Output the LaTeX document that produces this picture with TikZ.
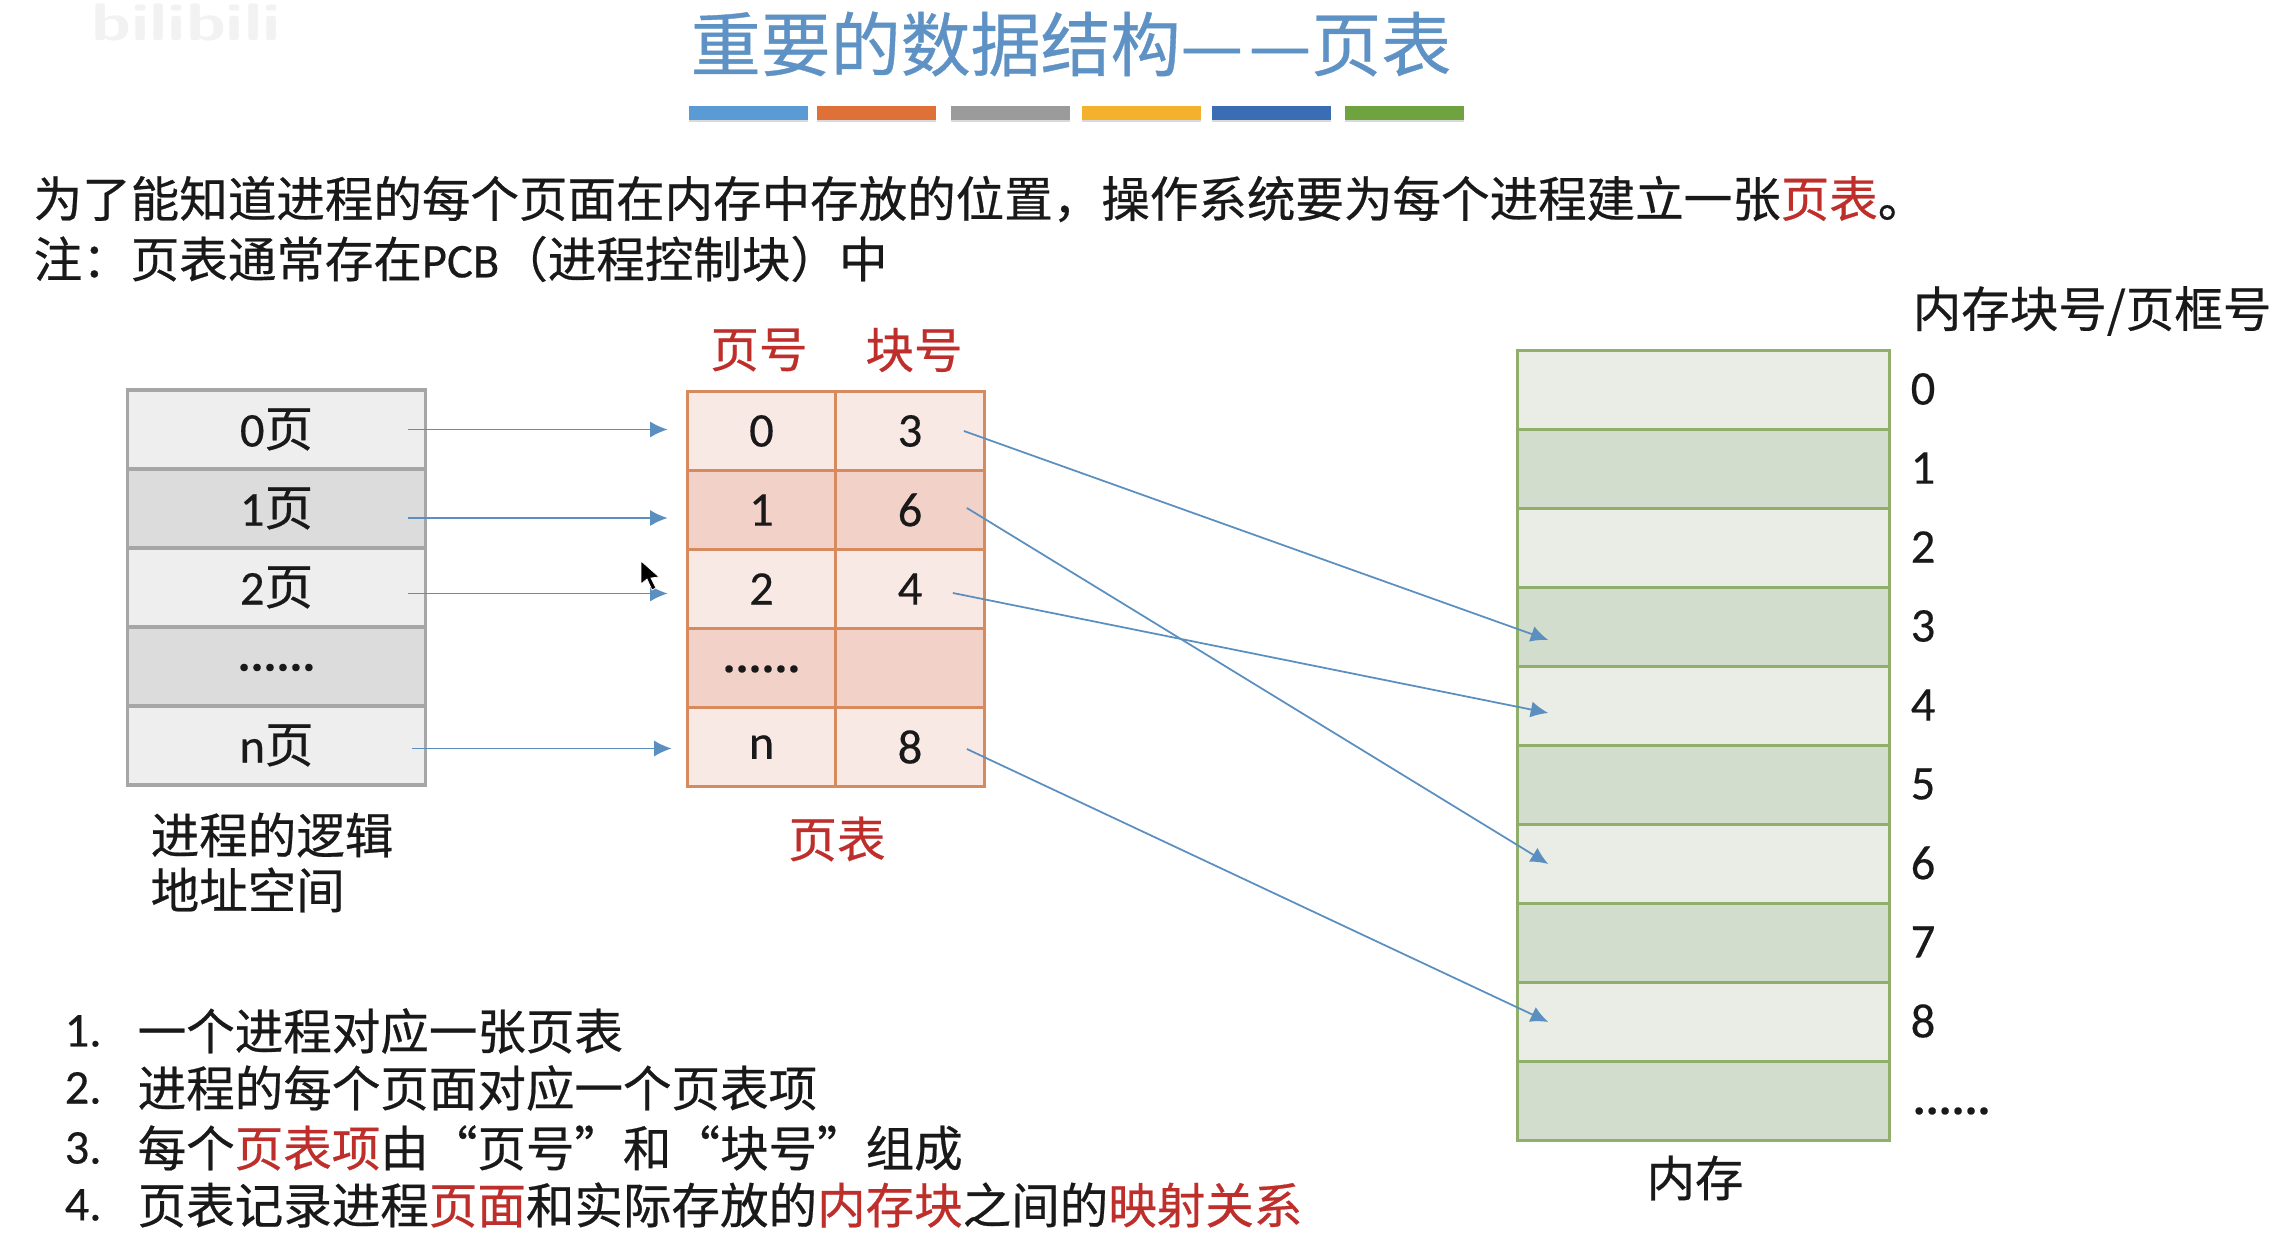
\documentclass[tikz,border=0pt]{standalone}
\usepackage{fontspec}
\setmainfont[FakeBold=.3]{Carlito}
\newfontfamily\cjk[FakeBold=.5]{Noto Sans CJK SC}
\usetikzlibrary{arrows.meta,calc,shadows}
\newcommand{\zh}[1]{{\cjk #1}}
\newcommand{\hl}[1]{{\color{keyred}\cjk #1}}
\newcommand{\dotrow}{\raisebox{-2.5pt}{\textbf{......}}}
\definecolor{keyred}{HTML}{BE2F2C}
\definecolor{titleblue}{HTML}{5F92C4}
\definecolor{arrowblue}{HTML}{5B8FBF}
\definecolor{pagelight}{HTML}{EEEEEE}
\definecolor{pagedark}{HTML}{DCDCDC}
\definecolor{pageline}{HTML}{A6A6A6}
\definecolor{celllight}{HTML}{F9E9E5}
\definecolor{celldark}{HTML}{F2D2C8}
\definecolor{cellline}{HTML}{D68A5E}
\definecolor{memlight}{HTML}{E9EDE6}
\definecolor{memdark}{HTML}{D3DDCD}
\definecolor{memline}{HTML}{8FAF6B}
\definecolor{barone}{HTML}{5B9BD5}
\definecolor{bartwo}{HTML}{DF7138}
\definecolor{barthree}{HTML}{9B9B9B}
\definecolor{barfour}{HTML}{F3B12E}
\definecolor{barfive}{HTML}{3B6DB5}
\definecolor{barsix}{HTML}{6FA33F}
\tikzset{
	body/.style={font=\fontsize{13.8}{16}\selectfont,inner sep=0,text=black!90},
	pagebox/.style={body,draw=pageline,line width=.9pt,minimum width=2.97cm,minimum height=.79cm},
	cellbox/.style={body,draw=cellline,line width=.9pt,minimum width=1.485cm,minimum height=.79cm},
	membox/.style={body,draw=memline,line width=.9pt,minimum width=3.71cm,minimum height=.79cm},
	link/.style={draw=arrowblue,line width=.5pt,-{Latex[length=5pt,width=4.6pt]}},
	bar/.style={minimum width=1.18cm,minimum height=.14cm,inner sep=0,drop shadow={shadow xshift=0pt,shadow yshift=-.6pt,opacity=.3}}
}
\begin{document}
\begin{tikzpicture}[x=.01cm,y=-.01cm]
	\path[use as bounding box] (0,0) rectangle (2279,1255);
	\node[font=\fontsize{15}{18}\bfseries\selectfont\sffamily,text=black!5,inner sep=0] (logo) at (186,22) {\scalebox{1.35}[1]{bilibili}};
	\node[font=\fontsize{19.9}{24}\selectfont\cjk,text=titleblue,inner sep=0] (title) at (1071,44) {重要的数据结构—\kern.08em—页表};
	\foreach \x/\c in {748.5/barone,876.5/bartwo,1010.5/barthree,1141.5/barfour,1271.5/barfive,1404.5/barsix}
		\node[bar,fill=\c] (\c) at (\x,113) {};
	\node[body,anchor=west] (intro) at (33,199) {\zh{为了能知道进程的每个页面在内存中存放的位置，操作系统要为每个进程建立一张}\hl{页表}\zh{。}};
	\node[body,anchor=west] (note) at (33,259) {\zh{注：页表通常存在}PCB\zh{（进程控制块）中}};
	\foreach \i/\t/\c in {0/0\zh{页}/pagelight,1/1\zh{页}/pagedark,2/2\zh{页}/pagelight,3/\dotrow/pagedark,4/n\zh{页}/pagelight}
		\node[pagebox,fill=\c] (page\i) at (276.5,{429.5+79*\i}) {\t};
	\foreach \i/\a/\b/\c in {0/0/3/celllight,1/1/6/celldark,2/2/4/celllight,3/\dotrow/{}/celldark,4/n/8/celllight}{
		\node[cellbox,fill=\c] (num\i) at (761.5,{431*1+79*\i}) {\a};
		\node[cellbox,fill=\c] (blk\i) at (910,{431*1+79*\i}) {\b};
	}
	\foreach \i/\c in {0/memlight,1/memdark,2/memlight,3/memdark,4/memlight,5/memdark,6/memlight,7/memdark,8/memlight,9/memdark}
		\node[membox,fill=\c] (mem\i) at (1703.5,{390+79*\i}) {};
	\foreach \i in {0,...,8}
		\node[body] (idx\i) at (1923,{389+79*\i}) {\i};
	\node[body,anchor=west] (idx9) at (1912,1110) {\dotrow};
	\node[body,text=keyred] (numhead) at (759,350) {\zh{页号}};
	\node[body,text=keyred] (blkhead) at (914,350) {\zh{块号}};
	\node[body,text=keyred] (tablecap) at (837,839) {\zh{页表}};
	\node[body,anchor=west] (pagecap1) at (150,835) {\zh{进程的逻辑}};
	\node[body,anchor=west] (pagecap2) at (150,890) {\zh{地址空间}};
	\node[body] (memcap) at (1695,1178) {\zh{内存}};
	\node[body,anchor=west] (idxhead) at (1912,311) {\zh{内存块号/页框号}};
	\foreach \i/\y/\t in {1/1031/\zh{一个进程对应一张页表},2/1088/\zh{进程的每个页面对应一个页表项},3/1148/\zh{每个}\hl{页表项}\zh{由“页号”和“块号”组成},4/1205/\zh{页表记录进程}\hl{页面}\zh{和实际存放的}\hl{内存块}\zh{之间的}\hl{映射关系}}{
		\node[body,anchor=west] (no\i) at (64,\y) {\i.};
		\node[body,anchor=west] (item\i) at (137,\y) {\t};
	}
	\foreach \i/\d/\s in {0/0/0,1/9.5/0,2/6/0,4/3/4}
		\draw[link] ($(page\i.east)+(-19+\s,\d)$) -- ($(num\i.west)+(-18+\s,\d-1.5)$);
	\foreach \a/\b/\d/\sx/\sy in {0/3/13/-22/0,1/6/0/-19/-2,2/4/7/-33/4,4/8/0/-19/2}
		\draw[link] ($(blk\a.east)+(\sx,\sy)$) -- ($(mem\b.west)+(32,\d)$);
	\filldraw[fill=black,draw=white,line width=.2pt] (641,561) -- (641,584) -- (647,579) -- (652,590) -- (656,588) -- (651,578) -- (659,577) -- cycle;
\end{tikzpicture}
\end{document}
